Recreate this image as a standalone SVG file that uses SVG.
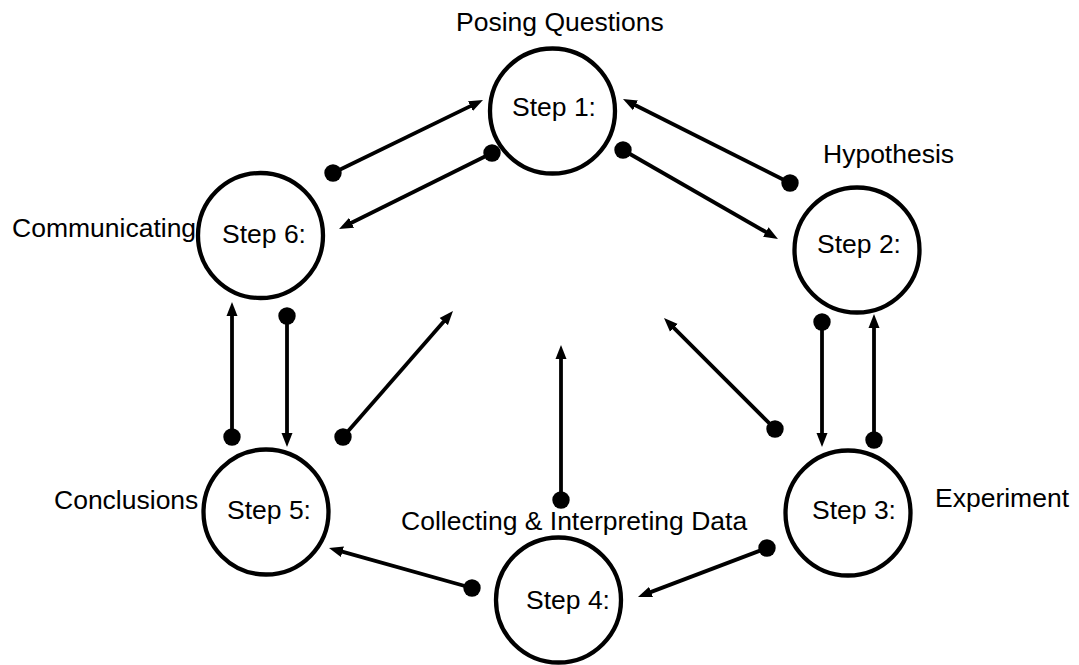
<svg xmlns="http://www.w3.org/2000/svg" width="1079" height="665" viewBox="0 0 1079 665">
<style>
.node{fill:#fff;stroke:#000;stroke-width:4.3}
text{font-family:"Liberation Sans",Arial,sans-serif;font-size:26.5px;fill:#000}
.c{fill:none;stroke:#000;stroke-width:3.8;marker-start:url(#dot);marker-end:url(#arr)}
</style>
<defs>
<marker id="arr" markerUnits="userSpaceOnUse" markerWidth="15" markerHeight="12" refX="4" refY="5.5" orient="auto" viewBox="0 0 15 11">
<path d="M0,0 L14,5.5 L0,11 z" fill="#000"/>
</marker>
<marker id="dot" markerUnits="userSpaceOnUse" markerWidth="20" markerHeight="20" refX="10" refY="10" viewBox="0 0 20 20">
<circle cx="10" cy="10" r="8.7" fill="#000"/>
</marker>
</defs>
<rect width="1079" height="665" fill="#fff"/>
<g id="connectors">
<path class="c" d="M333,173 L474,104.4"/>
<path class="c" d="M492,153 L348,224.5"/>
<path class="c" d="M790,183 L631.9,103.5"/>
<path class="c" d="M623,150 L769.3,234"/>
<path class="c" d="M822,322 L822,437"/>
<path class="c" d="M874,440 L874,324"/>
<path class="c" d="M775,429 L671.1,325.1"/>
<path class="c" d="M561,500 L561,355"/>
<path class="c" d="M767,548 L647.3,593.4"/>
<path class="c" d="M472,588 L338.6,550.7"/>
<path class="c" d="M343,437 L446.4,318.5"/>
<path class="c" d="M287,316 L287,437"/>
<path class="c" d="M232,437 L232,312"/>
</g>
<g id="step1">
<circle class="node" cx="552.5" cy="111" r="62.5"/>
<text x="512" y="116">Step 1:</text>
<text x="456" y="31">Posing Questions</text>
</g>
<g id="step2">
<circle class="node" cx="857" cy="250" r="62.5"/>
<text x="817" y="253">Step 2:</text>
<text x="823" y="163">Hypothesis</text>
</g>
<g id="step3">
<circle class="node" cx="848" cy="513" r="62.5"/>
<text x="812" y="519">Step 3:</text>
<text x="935" y="507">Experiment</text>
</g>
<g id="step4">
<circle class="node" cx="558.5" cy="600" r="62.5"/>
<text x="526" y="609">Step 4:</text>
<text x="401" y="530">Collecting &amp; Interpreting Data</text>
</g>
<g id="step5">
<circle class="node" cx="266" cy="512" r="62.5"/>
<text x="227" y="519">Step 5:</text>
<text x="54" y="509">Conclusions</text>
</g>
<g id="step6">
<circle class="node" cx="260.5" cy="235.5" r="62.5"/>
<text x="222" y="243">Step 6:</text>
<text x="12" y="237">Communicating</text>
</g>
</svg>
